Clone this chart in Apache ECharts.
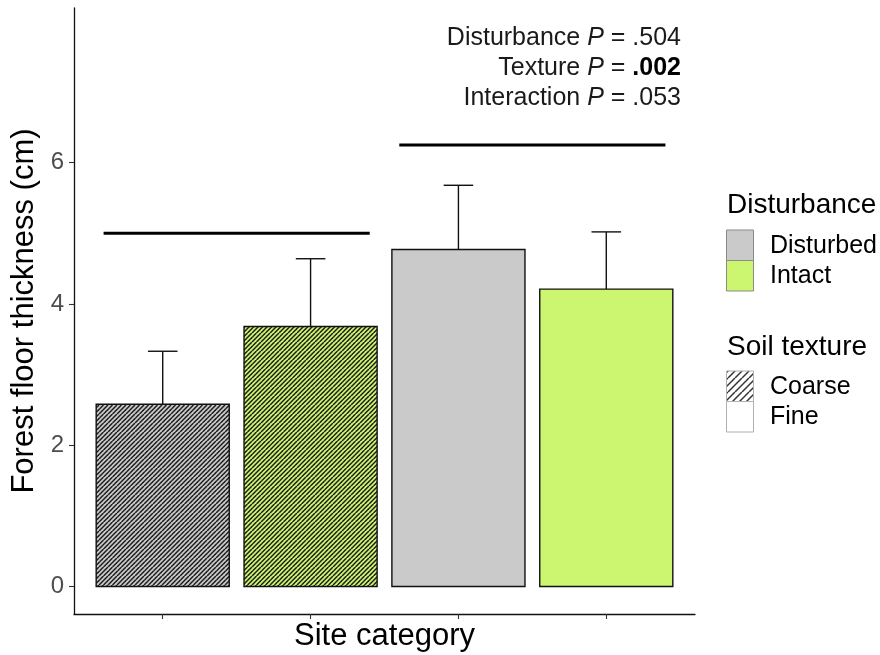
<!DOCTYPE html>
<html>
<head>
<meta charset="utf-8">
<script src="https://cdn.jsdelivr.net/npm/echarts@6/dist/echarts.min.js"></script>
<style>
  html, body { margin: 0; padding: 0; background: #ffffff; }
  #chart { width: 880px; height: 655px; }
</style>
</head>
<body>
<div id="chart"></div>
<script>
// Site categories along the x axis (position, disturbance level, soil texture)
const positions = [1, 2, 3, 4];
const disturbance = ['Disturbed', 'Intact', 'Disturbed', 'Intact'];
const texture = ['Coarse', 'Coarse', 'Fine', 'Fine'];
// Mean forest floor thickness (cm) and upper error (cm)
const means = [2.58, 3.68, 4.77, 4.21];
const errors = [0.75, 0.96, 0.91, 0.81];
// Y axis tick values
const yTicks = [0, 2, 4, 6];
// Grouping brackets over the coarse and fine pairs
const bracketCoarse = [[0.6, 5.0], [2.4, 5.0]];
const bracketFine = [[2.6, 6.25], [4.4, 6.25]];
// Legend levels
const disturbanceLevels = ['Disturbed', 'Intact'];
const textureLevels = ['Coarse', 'Fine'];
// ANOVA results: term, p value, significant
const pTerms = ['Disturbance', 'Texture', 'Interaction'];
const pValues = ['.504', '.002', '.053'];
const pSignificant = [false, true, false];

const FONT = "'Liberation Sans', Arial, Helvetica, sans-serif";
const fillColors = { Disturbed: '#cacaca', Intact: '#cdf670' };

// Diagonal stripe tile used as a repeating fill pattern
function hatchPattern(bg, lineColor, step, lineWidth) {
  const size = step * 2;
  const c = document.createElement('canvas');
  c.width = size; c.height = size;
  const ctx = c.getContext('2d');
  if (bg) { ctx.fillStyle = bg; ctx.fillRect(0, 0, size, size); }
  ctx.strokeStyle = lineColor;
  ctx.lineWidth = lineWidth;
  for (let o = -size; o <= size * 2; o += step) {
    ctx.beginPath();
    ctx.moveTo(o, size);
    ctx.lineTo(o + size, 0);
    ctx.stroke();
  }
  return { image: c, repeat: 'repeat' };
}

const barFill = {
  Disturbed: { Coarse: hatchPattern(fillColors.Disturbed, '#1c1c1c', 4.5, 1.5), Fine: fillColors.Disturbed },
  Intact: { Coarse: hatchPattern(fillColors.Intact, '#1c1c1c', 4.5, 1.5), Fine: fillColors.Intact }
};

const barData = positions.map((p, i) => [p, means[i], errors[i], i]);

function renderBar(params, api) {
  const x = api.value(0);
  const m = api.value(1);
  const e = api.value(2);
  const idx = api.value(3);
  const half = 0.45, capHalf = 0.1;
  const tl = api.coord([x - half, m]);
  const br = api.coord([x + half, 0]);
  const top = api.coord([x, m + e]);
  const capL = api.coord([x - capHalf, m + e]);
  const capR = api.coord([x + capHalf, m + e]);
  const fill = barFill[disturbance[idx]][texture[idx]];
  return {
    type: 'group',
    children: [
      {
        type: 'line',
        shape: { x1: top[0], y1: tl[1], x2: top[0], y2: top[1] },
        style: { stroke: '#111', lineWidth: 1.4 }
      },
      {
        type: 'line',
        shape: { x1: capL[0], y1: capL[1], x2: capR[0], y2: capR[1] },
        style: { stroke: '#111', lineWidth: 1.4 }
      },
      {
        type: 'rect',
        shape: { x: tl[0], y: tl[1], width: br[0] - tl[0], height: br[1] - tl[1] },
        style: { fill: fill, stroke: '#111', lineWidth: 1.4 }
      }
    ]
  };
}

// ANOVA annotation lines (rich text: italic P, bold significant value)
const annotation = pTerms.map((t, i) => ({
  type: 'text',
  x: 681,
  y: 38 + i * 30,
  style: {
    text: '{n|' + t + ' }{i|P}{n| = }' + (pSignificant[i] ? '{b|' : '{n|') + pValues[i] + '}',
    align: 'right',
    verticalAlign: 'middle',
    rich: {
      n: { fontFamily: FONT, fontSize: 25, fill: '#1a1a1a' },
      i: { fontFamily: FONT, fontSize: 25, fontStyle: 'italic', fill: '#1a1a1a' },
      b: { fontFamily: FONT, fontSize: 25, fontWeight: 'bold', fill: '#000' }
    }
  }
}));

// Legend drawn as graphic elements
const legendElements = [];
legendElements.push({
  type: 'text', x: 727, y: 205,
  style: { text: 'Disturbance', fontFamily: FONT, fontSize: 28, fill: '#000', verticalAlign: 'middle' }
});
disturbanceLevels.forEach((lv, i) => {
  const y = 230 + i * 30.5;
  legendElements.push({
    type: 'rect', shape: { x: 726.5, y: y, width: 27, height: 30.5 },
    style: { fill: fillColors[lv], stroke: '#8a8a8a', lineWidth: 1 }
  });
  legendElements.push({
    type: 'text', x: 770, y: y + 16,
    style: { text: lv, fontFamily: FONT, fontSize: 25, fill: '#000', verticalAlign: 'middle' }
  });
});
legendElements.push({
  type: 'text', x: 727, y: 347,
  style: { text: 'Soil texture', fontFamily: FONT, fontSize: 28, fill: '#000', verticalAlign: 'middle' }
});
const keyHatch = hatchPattern('#ffffff', '#333333', 7, 1.5);
textureLevels.forEach((lv, i) => {
  const y = 371 + i * 30.5;
  legendElements.push({
    type: 'rect', shape: { x: 726.5, y: y, width: 27, height: 30.5 },
    style: { fill: lv === 'Coarse' ? keyHatch : '#ffffff', stroke: '#b0b0b0', lineWidth: 1 }
  });
  legendElements.push({
    type: 'text', x: 770, y: y + 16,
    style: { text: lv, fontFamily: FONT, fontSize: 25, fill: '#000', verticalAlign: 'middle' }
  });
});

const chart = echarts.init(document.getElementById('chart'), null, { renderer: 'canvas' });
chart.setOption({
  animation: false,
  backgroundColor: '#ffffff',
  grid: { left: 74, right: 185, top: 8, bottom: 41, containLabel: false, outerBoundsMode: 'none' },
  xAxis: {
    type: 'value',
    min: 0.4, max: 4.6,
    name: 'Site category',
    nameLocation: 'middle',
    nameGap: 7,
    nameTextStyle: { fontFamily: FONT, fontSize: 31, color: '#000', verticalAlign: 'top' },
    axisLine: { show: true, onZero: false, lineStyle: { color: '#111', width: 1.3 } },
    axisTick: { show: true, length: 5, customValues: positions, lineStyle: { color: '#333', width: 1.1 } },
    axisLabel: { show: false, customValues: positions },
    splitLine: { show: false }
  },
  yAxis: {
    type: 'value',
    min: -0.39, max: 8.19,
    name: 'Forest floor thickness (cm)',
    nameLocation: 'middle',
    nameGap: 33,
    nameTextStyle: { fontFamily: FONT, fontSize: 31, color: '#000' },
    axisLine: { show: true, onZero: false, lineStyle: { color: '#111', width: 1.3 } },
    axisTick: { show: true, length: 5, customValues: yTicks, lineStyle: { color: '#333', width: 1.1 } },
    axisLabel: { show: true, customValues: yTicks, fontFamily: FONT, fontSize: 24, color: '#4d4d4d', margin: 10 },
    splitLine: { show: false }
  },
  series: [
    {
      type: 'custom',
      renderItem: renderBar,
      data: barData,
      encode: { x: 0, y: [1, 2] },
      clip: false,
      silent: true
    },
    {
      type: 'line', data: bracketCoarse, symbol: 'none',
      lineStyle: { color: '#000', width: 3 }, silent: true
    },
    {
      type: 'line', data: bracketFine, symbol: 'none',
      lineStyle: { color: '#000', width: 3 }, silent: true
    }
  ],
  graphic: annotation.concat(legendElements)
});
</script>
</body>
</html>
